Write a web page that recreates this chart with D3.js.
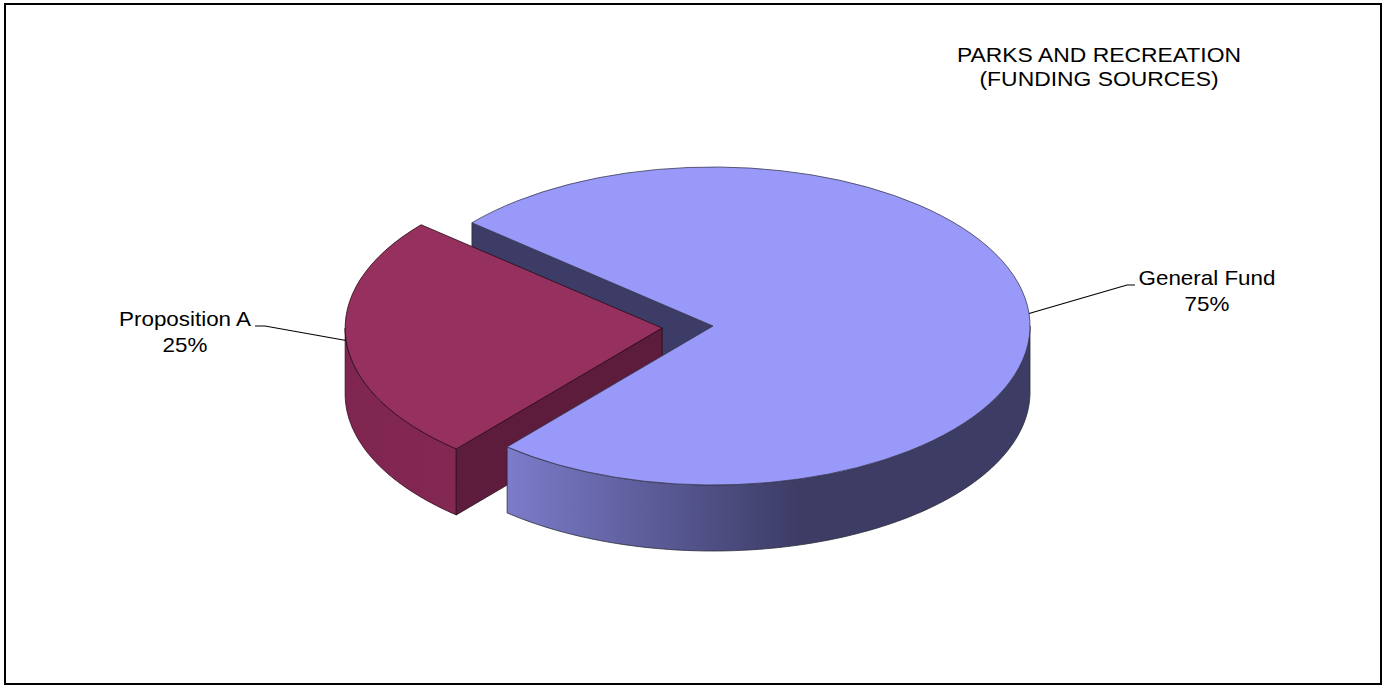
<!DOCTYPE html>
<html>
<head>
<meta charset="utf-8">
<script src="https://cdn.jsdelivr.net/npm/d3@7"></script>
<style>
  html, body { margin: 0; padding: 0; background: #fff; }
  svg { display: block; }
  text { font-family: "Liberation Sans", Arial, sans-serif; fill: #000; }
</style>
</head>
<body>
<script>
// Funding sources for Parks and Recreation
const categories = ["General Fund", "Proposition A"];
const values = [75, 25];
const percentLabels = ["75%", "25%"];
const titleLines = ["PARKS AND RECREATION", "(FUNDING SOURCES)"];

// Slice styling
const topColors = ["#9999fa", "#96305f"];
const cutColors = ["#3c3c66", "#5e1c3c"];
const exploded = [0, 1];

const W = 1384, H = 687;
const svg = d3.select("body").append("svg").attr("width", W).attr("height", H);
const defs = svg.append("defs");

// Shading of the curved outer walls
const gfGrad = defs.append("linearGradient").attr("id", "sideGF")
  .attr("gradientUnits", "userSpaceOnUse")
  .attr("x1", 506).attr("y1", 0).attr("x2", 800).attr("y2", 0);
gfGrad.append("stop").attr("offset", 0).attr("stop-color", "#7c7ccb");
gfGrad.append("stop").attr("offset", 0.6).attr("stop-color", "#55558e");
gfGrad.append("stop").attr("offset", 1).attr("stop-color", "#3c3c65");

const paGrad = defs.append("linearGradient").attr("id", "sidePA")
  .attr("gradientUnits", "userSpaceOnUse")
  .attr("x1", 346).attr("y1", 0).attr("x2", 455).attr("y2", 0);
paGrad.append("stop").attr("offset", 0).attr("stop-color", "#7e2550");
paGrad.append("stop").attr("offset", 1).attr("stop-color", "#832853");
const sideFills = ["url(#sideGF)", "url(#sidePA)"];

// Frame
svg.append("rect")
  .attr("x", 5).attr("y", 4).attr("width", 1376).attr("height", 680)
  .attr("fill", "#fff").attr("stroke", "#000").attr("stroke-width", 2);

// Pie geometry (flattened ellipse with an extruded wall)
const cx = 713, cy = 326, rx = 317, ry = 159, depth = 66, explodeDist = 51;
const k = ry / rx;
const start = -49.5 * Math.PI / 180;

const pie = d3.pie().sort(null).startAngle(start).endAngle(start + 2 * Math.PI);
const arcs = pie(values);
arcs.forEach((a, i) => {
  a.mid = (a.startAngle + a.endAngle) / 2;
  const ex = exploded[i] ? explodeDist : 0;
  a.ox = cx + ex * Math.sin(a.mid);
  a.oy = cy - ex * Math.cos(a.mid) * k;
  a.i = i;
});

const P = (a, th, dy = 0) => [a.ox + rx * Math.sin(th), a.oy - ry * Math.cos(th) + dy];
const line = d3.line();

function sidePath(a) {
  const lo = Math.max(a.startAngle, Math.PI / 2);
  const hi = Math.min(a.endAngle, 1.5 * Math.PI);
  if (hi <= lo) return null;
  const n = 120;
  const ts = d3.range(n + 1).map(j => lo + (hi - lo) * j / n);
  const pts = ts.map(t => P(a, t)).concat(ts.slice().reverse().map(t => P(a, t, depth)));
  return line(pts) + "Z";
}
function cutFace(a, th) {
  return line([[a.ox, a.oy], P(a, th), P(a, th, depth), [a.ox, a.oy + depth]]) + "Z";
}

const topArc = d3.arc().innerRadius(0).outerRadius(rx);
const stroke = "#2b2b3a", sw = 0.8;

const gf = arcs[0], pa = arcs[1];
const layer = svg.append("g");

// back cut wall of the large slice
layer.append("path").attr("d", cutFace(gf, gf.startAngle))
  .attr("fill", cutColors[0]).attr("stroke", stroke).attr("stroke-width", sw);

// exploded slice: outer wall, cut wall, top
layer.append("path").attr("d", sidePath(pa))
  .attr("fill", sideFills[1]).attr("stroke", "#2a0a18").attr("stroke-width", sw);
layer.append("path").attr("d", cutFace(pa, pa.startAngle))
  .attr("fill", cutColors[1]).attr("stroke", "#2a0a18").attr("stroke-width", sw);
layer.append("path").attr("d", topArc(pa))
  .attr("transform", `translate(${pa.ox},${pa.oy}) scale(1,${k})`)
  .attr("fill", topColors[1]).attr("stroke", "#2a0a18").attr("stroke-width", sw)
  .attr("vector-effect", "non-scaling-stroke");

// large slice: outer wall, top
layer.append("path").attr("d", sidePath(gf))
  .attr("fill", sideFills[0]).attr("stroke", stroke).attr("stroke-width", sw);
layer.append("path").attr("d", topArc(gf))
  .attr("transform", `translate(${gf.ox},${gf.oy}) scale(1,${k})`)
  .attr("fill", topColors[0]).attr("stroke", "#3a3a55").attr("stroke-width", sw)
  .attr("vector-effect", "non-scaling-stroke");

// Leader lines and data labels
const labelPos = [
  { tx: 1207, ty: 285, elbow: [1127, 285], end: [1135, 285] },
  { tx: 185, ty: 326, elbow: [265, 326], end: [255, 326] }
];
const sx = 1.12, fs = 20;
arcs.forEach((a, i) => {
  const lp = labelPos[i];
  svg.append("path")
    .attr("d", line([P(a, a.mid), lp.elbow, lp.end]))
    .attr("fill", "none").attr("stroke", "#000").attr("stroke-width", 1.2);
  [categories[i], percentLabels[i]].forEach((t, j) => {
    svg.append("text")
      .attr("transform", `translate(${lp.tx},${lp.ty + j * 26}) scale(${sx},1)`)
      .attr("text-anchor", "middle").attr("font-size", fs)
      .text(t);
  });
});

// Title
titleLines.forEach((t, j) => {
  svg.append("text")
    .attr("transform", `translate(1099,${62 + j * 24}) scale(1.145,1)`)
    .attr("text-anchor", "middle").attr("font-size", fs)
    .text(t);
});
</script>
</body>
</html>
